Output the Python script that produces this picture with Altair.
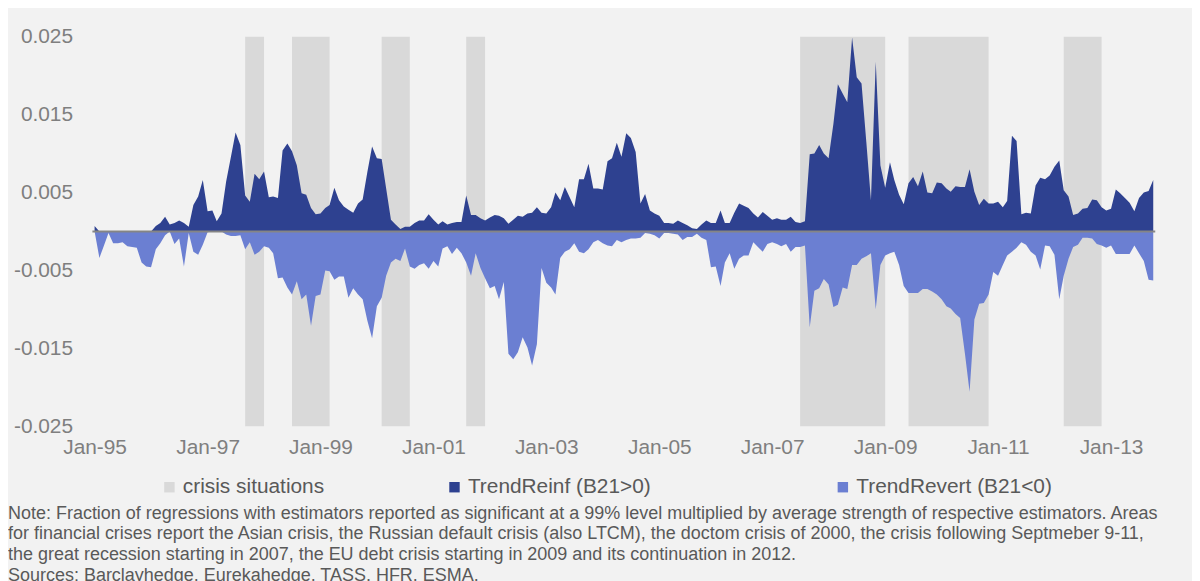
import altair as alt
import pandas as pd

# ---------------- data (monthly, Jan-1995 .. Oct-2013) ----------------
reinf_1995 = [0.0007, 0, 0, 0, 0, 0, 0, 0, 0, 0, 0, 0]
reinf_1996 = [0, 0.0007, 0.0011, 0.0019, 0.0009, 0.0011, 0.0014, 0.0011, 0.0006, 0.0034, 0.0045, 0.0066]
reinf_1997 = [0.0026, 0.0027, 0.0013, 0.0023, 0.0064, 0.0096, 0.0127, 0.0111, 0.0046, 0.0038, 0.0074, 0.0067]
reinf_1998 = [0.0077, 0.0044, 0.0045, 0.0043, 0.0104, 0.0113, 0.0103, 0.0085, 0.0049, 0.0047, 0.0030, 0.0022]
reinf_1999 = [0.0023, 0.0030, 0.0034, 0.0056, 0.0040, 0.0032, 0.0028, 0.0024, 0.0036, 0.0041, 0.0077, 0.0109]
reinf_2000 = [0.0094, 0.0093, 0.0055, 0.0015, 0.0009, 0.0003, 0.0006, 0.0006, 0.0011, 0.0014, 0.0014, 0.0022]
reinf_2001 = [0.0015, 0.0009, 0.0013, 0.0009, 0.0011, 0.0012, 0.0012, 0.0046, 0.0021, 0.0021, 0.0017, 0.0014]
reinf_2002 = [0.0018, 0.0021, 0.0020, 0.0017, 0.0010, 0.0015, 0.0020, 0.0019, 0.0023, 0.0024, 0.0031, 0.0024]
reinf_2003 = [0.0023, 0.0031, 0.0050, 0.0040, 0.0057, 0.0044, 0.0031, 0.0067, 0.0067, 0.0087, 0.0055, 0.0055]
reinf_2004 = [0.0054, 0.0090, 0.0094, 0.0114, 0.0096, 0.0126, 0.0120, 0.0102, 0.0036, 0.0048, 0.0027, 0.0023]
reinf_2005 = [0.0020, 0.0011, 0.0011, 0.0010, 0.0014, 0.0011, 0.0008, 0.0004, 0.0003, 0.0009, 0.0014, 0.0011]
reinf_2006 = [0.0011, 0.0027, 0.0011, 0.0011, 0.0024, 0.0036, 0.0033, 0.0030, 0.0023, 0.0018, 0.0025, 0.0020]
reinf_2007 = [0.0015, 0.0017, 0.0015, 0.0015, 0.0019, 0.0012, 0.0011, 0.0013, 0.0099, 0.0100, 0.0111, 0.0100]
reinf_2008 = [0.0094, 0.0138, 0.0189, 0.0177, 0.0166, 0.0249, 0.0198, 0.0190, 0.0115, 0.0040, 0.0218, 0.0085]
reinf_2009 = [0.0056, 0.0089, 0.0066, 0.0047, 0.0035, 0.0062, 0.0070, 0.0058, 0.0077, 0.0050, 0.0049, 0.0063]
reinf_2010 = [0.0062, 0.0055, 0.0051, 0.0058, 0.0057, 0.0057, 0.0080, 0.0051, 0.0034, 0.0042, 0.0036, 0.0036]
reinf_2011 = [0.0038, 0.0031, 0.0039, 0.0123, 0.0116, 0.0022, 0.0024, 0.0023, 0.0059, 0.0069, 0.0067, 0.0072]
reinf_2012 = [0.0083, 0.0091, 0.0053, 0.0045, 0.0021, 0.0023, 0.0029, 0.0030, 0.0041, 0.0040, 0.0031, 0.0027]
reinf_2013 = [0.0029, 0.0054, 0.0049, 0.0043, 0.0037, 0.0026, 0.0043, 0.0050, 0.0052, 0.0066]

revert_1995 = [0, -0.0034, -0.0019, -0.0002, -0.0015, -0.0015, -0.0014, -0.0019, -0.0020, -0.0021, -0.0040, -0.0045]
revert_1996 = [-0.0046, -0.0023, -0.0015, -0.0005, 0, -0.0016, -0.0009, -0.0045, -0.0002, -0.0026, -0.0030, -0.0017]
revert_1997 = [-0.0001, 0, 0, 0, -0.0004, -0.0006, -0.0006, -0.0005, -0.0023, -0.0014, -0.0030, -0.0026]
revert_1998 = [-0.0019, -0.0021, -0.0028, -0.0060, -0.0059, -0.0072, -0.0081, -0.0064, -0.0087, -0.0081, -0.0121, -0.0083]
revert_1999 = [-0.0081, -0.0050, -0.0051, -0.0062, -0.0058, -0.0058, -0.0085, -0.0073, -0.0081, -0.0087, -0.0115, -0.0137]
revert_2000 = [-0.0096, -0.0085, -0.0057, -0.0040, -0.0035, -0.0038, -0.0022, -0.0045, -0.0048, -0.0043, -0.0041, -0.0048]
revert_2001 = [-0.0038, -0.0045, -0.0022, -0.0019, -0.0029, -0.0021, -0.0028, -0.0040, -0.0057, -0.0028, -0.0047, -0.0060]
revert_2002 = [-0.0073, -0.0070, -0.0087, -0.0065, -0.0157, -0.0164, -0.0155, -0.0136, -0.0149, -0.0172, -0.0145, -0.0047]
revert_2003 = [-0.0066, -0.0072, -0.0081, -0.0034, -0.0026, -0.0023, -0.0015, -0.0026, -0.0028, -0.0023, -0.0014, -0.0011]
revert_2004 = [-0.0015, -0.0018, -0.0019, -0.0011, -0.0014, -0.0011, -0.0009, -0.0009, -0.0008, -0.0002, -0.0003, -0.0005]
revert_2005 = [-0.0009, -0.0002, -0.0002, -0.0003, -0.0004, -0.0011, -0.0007, -0.0007, -0.0003, -0.0008, -0.0011, -0.0046]
revert_2006 = [-0.0045, -0.0070, -0.0040, -0.0028, -0.0048, -0.0035, -0.0031, -0.0031, -0.0014, -0.0020, -0.0026, -0.0016]
revert_2007 = [-0.0014, -0.0016, -0.0019, -0.0016, -0.0026, -0.0020, -0.0020, -0.0018, -0.0123, -0.0076, -0.0073, -0.0061]
revert_2008 = [-0.0068, -0.0097, -0.0094, -0.0072, -0.0074, -0.0043, -0.0043, -0.0035, -0.0032, -0.0028, -0.0100, -0.0043]
revert_2009 = [-0.0031, -0.0028, -0.0026, -0.0043, -0.0070, -0.0079, -0.0079, -0.0079, -0.0074, -0.0074, -0.0077, -0.0081]
revert_2010 = [-0.0087, -0.0096, -0.0099, -0.0106, -0.0111, -0.0157, -0.0206, -0.0113, -0.0093, -0.0092, -0.0081, -0.0052]
revert_2011 = [-0.0057, -0.0043, -0.0031, -0.0026, -0.0021, -0.0014, -0.0017, -0.0026, -0.0031, -0.0049, -0.0018, -0.0019]
revert_2012 = [-0.0030, -0.0087, -0.0057, -0.0035, -0.0020, -0.0017, -0.0008, -0.0008, -0.0009, -0.0016, -0.0018, -0.0021]
revert_2013 = [-0.0018, -0.0029, -0.0029, -0.0029, -0.0029, -0.0018, -0.0028, -0.0038, -0.0062, -0.0063]

crisis_start = ["1997-09-01", "1998-07-01", "2000-02-01", "2001-08-01", "2007-07-01", "2009-06-01", "2012-03-01"]
crisis_end = ["1998-01-01", "1999-03-01", "2000-08-01", "2001-12-01", "2009-01-01", "2010-11-01", "2012-11-01"]

y_ticks = [-0.025, -0.015, -0.005, 0.005, 0.015, 0.025]
x_tick_years = list(range(1995, 2014, 2))

label_crisis = "crisis situations"
label_reinf = "TrendReinf (B21>0)"
label_revert = "TrendRevert (B21<0)"

note_lines = [
    "Note: Fraction of regressions with estimators reported as significant at a 99% level multiplied by average strength of respective estimators. Areas",
    "for financial crises report the Asian crisis, the Russian default crisis (also LTCM), the doctom crisis of 2000, the crisis following Septmeber 9-11,",
    "the great recession starting in 2007, the EU debt crisis starting in 2009 and its continuation in 2012.",
    "Sources: Barclayhedge, Eurekahedge, TASS, HFR, ESMA.",
]

# ---------------- assemble ----------------
reinf = (reinf_1995 + reinf_1996 + reinf_1997 + reinf_1998 + reinf_1999 + reinf_2000 + reinf_2001
         + reinf_2002 + reinf_2003 + reinf_2004 + reinf_2005 + reinf_2006 + reinf_2007 + reinf_2008
         + reinf_2009 + reinf_2010 + reinf_2011 + reinf_2012 + reinf_2013)
revert = (revert_1995 + revert_1996 + revert_1997 + revert_1998 + revert_1999 + revert_2000 + revert_2001
          + revert_2002 + revert_2003 + revert_2004 + revert_2005 + revert_2006 + revert_2007 + revert_2008
          + revert_2009 + revert_2010 + revert_2011 + revert_2012 + revert_2013)
n = min(len(reinf), len(revert))
dates = pd.date_range("1995-01-01", periods=n, freq="MS").strftime("%Y-%m-%d").tolist()

df_reinf = pd.DataFrame({"date": dates, "value": reinf[:n], "series": label_reinf})
df_revert = pd.DataFrame({"date": dates, "value": revert[:n], "series": label_revert})
df_crisis = pd.DataFrame({"start": crisis_start, "end": crisis_end, "series": label_crisis})
df_zero = pd.DataFrame({"zero": [0.0]})

W, H = 1070, 392
FONT = "Liberation Sans"
C_CRISIS, C_REINF, C_REVERT = "#d9d9d9", "#2e4190", "#6b7fd2"

x_scale = alt.Scale(domain=[alt.DateTime(year=1994, month=12, date=18),
                            alt.DateTime(year=2013, month=10, date=14)])
x_axis = alt.Axis(values=[alt.DateTime(year=y, month=1, date=1) for y in x_tick_years],
                  format="%b-%y", labelFontSize=21, labelFont=FONT, labelColor="#7f7f7f",
                  labelPadding=11, ticks=False, domain=False, grid=False, title=None,
                  labelFlush=False, labelOverlap=False)
y_scale = alt.Scale(domain=[-0.025, 0.025], nice=False, zero=False)
y_axis = alt.Axis(values=y_ticks, labelExpr="replace(format(datum.value, '.3f'), '\u2212', '-')",
                  labelFontSize=21, labelFont=FONT, labelColor="#7f7f7f", labelPadding=20,
                  ticks=False, domain=False, grid=False, title=None)


def legend(x):
    return alt.Legend(orient="none", legendX=x, legendY=443, title=None, labelFontSize=21,
                      labelFont=FONT, labelColor="#595959", symbolType="square", symbolSize=110,
                      symbolStrokeWidth=0, labelOffset=3, labelLimit=400)


bands = alt.Chart(df_crisis).mark_rect().encode(
    x=alt.X("start:T", scale=x_scale, axis=x_axis),
    x2="end:T",
    y=alt.value(0),
    y2=alt.value(H),
    color=alt.Color("series:N", scale=alt.Scale(domain=[label_crisis], range=[C_CRISIS]),
                    legend=legend(67)),
)

area_reinf = alt.Chart(df_reinf).mark_area(opacity=1).encode(
    x=alt.X("date:T"),
    y=alt.Y("value:Q", stack=None, scale=y_scale, axis=y_axis),
    color=alt.Color("series:N", scale=alt.Scale(domain=[label_reinf], range=[C_REINF]),
                    legend=legend(354)),
)

area_revert = alt.Chart(df_revert).mark_area(opacity=1).encode(
    x=alt.X("date:T"),
    y=alt.Y("value:Q", stack=None),
    color=alt.Color("series:N", scale=alt.Scale(domain=[label_revert], range=[C_REVERT]),
                    legend=legend(745)),
)

zero_rule = alt.Chart(df_zero).mark_rule(color="#858585", strokeWidth=2).encode(
    y=alt.Y("zero:Q"),
    x=alt.value(0),
    x2=alt.value(W),
)

chart = alt.layer(bands, area_reinf, area_revert, zero_rule).resolve_scale(
    color="independent"
).properties(
    width=W,
    height=H,
    padding={"left": 85, "top": 27, "right": 37, "bottom": 160},
    autosize=alt.AutoSizeParams(type="none"),
    background="#f2f2f2",
    title=alt.TitleParams(text=note_lines, orient="bottom", anchor="start", frame="group",
                          dx=-85, offset=7, fontSize=18.1, font=FONT, fontWeight="normal",
                          color="#595959", lineHeight=21),
).configure_view(stroke=None)

chart.save("out.html", embed_options={"renderer": "svg", "actions": False})
